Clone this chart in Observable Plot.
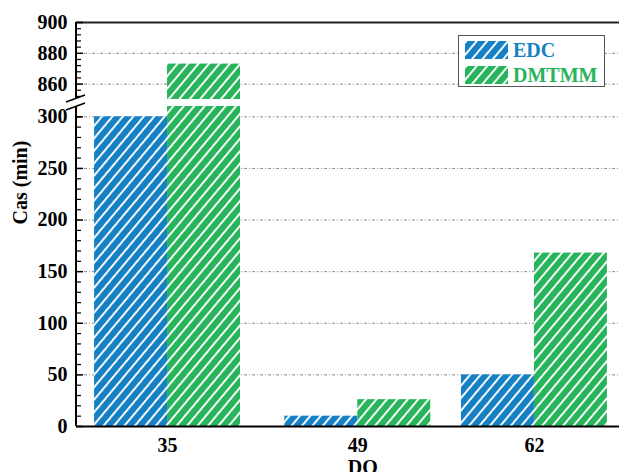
<!DOCTYPE html>
<html>
<head>
<meta charset="utf-8">
<script src="https://cdn.jsdelivr.net/npm/d3@7"></script>
<script src="https://cdn.jsdelivr.net/npm/@observablehq/plot@0.6"></script>
<style>
  html, body { margin: 0; padding: 0; background: #fff; }
  #wrap { position: relative; width: 619px; height: 472px; overflow: hidden; }
  #legend { position: absolute; left: 458px; top: 35px; width: 147px; height: 52px;
            border: 1px solid #555; background: #fff; box-sizing: border-box;
            font-family: "Liberation Serif", serif; font-weight: bold; font-size: 20px; }
  .lrow { position: absolute; left: 6px; display: flex; align-items: center; }
  .lrow svg { display: block; }
  .lrow span { margin-left: 5px; line-height: 1; }
</style>
</head>
<body>
<svg width="0" height="0" style="position:absolute">
  <defs id="defs"></defs>
</svg>
<div id="wrap">
  <div id="chart"></div>
  <div id="legend"></div>
</div>
<script>
// ---- data ----
const doValues = [35, 49, 62];
const series = ["EDC", "DMTMM"];
const edcValues = [300, 10, 50];
const dmtmmValues = [873, 26, 168];
const colors = ["#1580c4", "#27b45b"];
const majorTicks = [0, 50, 100, 150, 200, 250, 300, 860, 880, 900];
const minorTicks = [10,20,30,40,60,70,80,90,110,120,130,140,160,170,180,190,210,220,230,240,260,270,280,290,300,852,856,864,868,872,876,884,888,892,896];
const gridTicks = [50, 100, 150, 200, 250, 300, 860, 880];
const breakLow = 310, breakHigh = 850;

// ---- hatch patterns ----
const defs = document.getElementById("defs");
series.forEach((s, i) => {
  const p = document.createElementNS("http://www.w3.org/2000/svg", "pattern");
  p.setAttribute("id", "hatch-" + s);
  p.setAttribute("patternUnits", "userSpaceOnUse");
  p.setAttribute("width", "8");
  p.setAttribute("height", "8");
  p.setAttribute("patternTransform", "rotate(40)");
  p.innerHTML = `<rect width="8" height="8" fill="${colors[i]}"/><line x1="1" y1="0" x2="1" y2="8" stroke="#fff" stroke-width="1.9"/>`;
  defs.appendChild(p);
});

const rows = [];
doValues.forEach((g, i) => {
  rows.push({do: g, series: "EDC", value: edcValues[i]});
  rows.push({do: g, series: "DMTMM", value: dmtmmValues[i]});
});

const W = 619, H = 472, mL = 76, mT = 22, mB = 46;
const barW = 5.37; // bar width in DO units
const font = {fontFamily: "Liberation Serif, serif", fontWeight: "bold", fontSize: 20};

function axisDecor(index, scales, values, dims) {
  const g = document.createElementNS("http://www.w3.org/2000/svg", "g");
  const y = scales.y;
  const x0 = dims.marginLeft;
  const yLo = y(breakLow), yHi = y(breakHigh);
  const mk = (tag, attrs) => { const e = document.createElementNS("http://www.w3.org/2000/svg", tag); for (const k in attrs) e.setAttribute(k, attrs[k]); g.appendChild(e); };
  mk("line", {x1: x0, x2: x0, y1: y(0), y2: yLo, stroke: "#000", "stroke-width": 2});
  mk("line", {x1: x0, x2: x0, y1: yHi, y2: y(900), stroke: "#000", "stroke-width": 2});
  mk("line", {x1: x0 - 10, x2: x0 + 9, y1: yLo + 4, y2: yLo - 3, stroke: "#000", "stroke-width": 1.5});
  mk("line", {x1: x0 - 10, x2: x0 + 9, y1: yHi + 3, y2: yHi - 4, stroke: "#000", "stroke-width": 1.5});
  return g;
}

const chart = Plot.plot({
  width: W, height: H,
  marginLeft: mL, marginTop: mT, marginBottom: mB, marginRight: 0,
  style: {fontFamily: "Liberation Serif, serif", fontWeight: "bold", fontSize: "20px", color: "#000"},
  x: {type: "linear", domain: [28.3, 68.26], axis: null},
  y: {type: "linear", domain: [0, breakLow, breakHigh, 900], range: [426, 106, 99, 22], axis: null},
  marks: [
    Plot.gridY(gridTicks, {stroke: "#8a8a8a", strokeOpacity: 1, strokeWidth: 1, strokeDasharray: "3,2,1,2"}),
    Plot.rectY(rows.filter(d => d.series === "EDC"), {x1: d => d.do - barW, x2: d => d.do, y1: 0, y2: "value", fill: "url(#hatch-EDC)"}),
    Plot.rectY(rows.filter(d => d.series === "DMTMM"), {x1: d => d.do, x2: d => d.do + barW, y1: 0, y2: "value", fill: "url(#hatch-DMTMM)"}),
    Plot.rectY([breakLow], {y1: () => breakLow, y2: () => breakHigh, fill: "#fff"}),
    Plot.ruleY([0], {stroke: "#000", strokeWidth: 2}),
    Plot.ruleY([900], {stroke: "#222", strokeWidth: 2}),
    Plot.axisY(majorTicks, {tickSize: -7, tickFormat: () => "", label: null, strokeWidth: 1.5}),
    Plot.axisY(minorTicks, {tickSize: -5, tickFormat: () => "", label: null, strokeWidth: 1.2}),
    Plot.axisY(majorTicks, {tickSize: 0, tickPadding: 9, label: null, ...font}),
    Plot.axisX(doValues, {tickSize: 0, tickPadding: 11, label: null, ...font}),
    axisDecor,
    Plot.text(["Cas (min)"], {frameAnchor: "left", rotate: -90, dx: -56, text: d => d, ...font}),
    Plot.text(["DO"], {x: () => doValues[1], frameAnchor: "bottom", dy: 47, dx: 5, text: d => d, ...font})
  ]
});
document.getElementById("chart").appendChild(chart);

// ---- legend ----
const legend = document.getElementById("legend");
series.forEach((s, i) => {
  const row = document.createElement("div");
  row.className = "lrow";
  row.style.top = (i === 0 ? 4 : 29) + "px";
  row.innerHTML = `<svg width="43" height="18"><rect width="43" height="18" fill="url(#hatch-${s})"/></svg><span style="color:${colors[i]}">${s}</span>`;
  legend.appendChild(row);
});
</script>
</body>
</html>
